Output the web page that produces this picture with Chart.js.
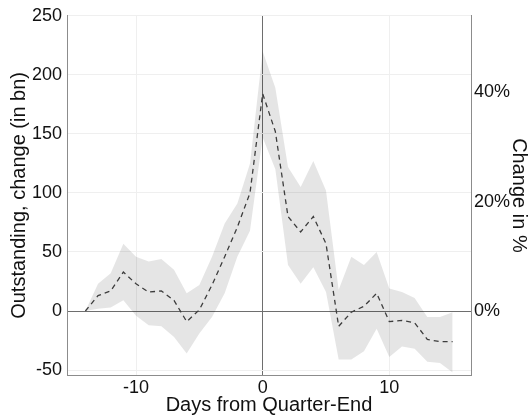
<!DOCTYPE html>
<html>
<head>
<meta charset="utf-8">
<script src="https://cdn.jsdelivr.net/npm/chart.js@4/dist/chart.umd.min.js"></script>
<style>
  html, body { margin: 0; padding: 0; background: #fff; }
  #wrap { width: 532px; height: 417px; }
</style>
</head>
<body>
<div id="wrap"><canvas id="quarterChart" width="532" height="417"></canvas></div>
<script>
// days relative to quarter end
let days = [-14, -13, -12, -11, -10, -9, -8, -7, -6, -5, -4, -3, -2, -1, 0,
            1, 2, 3, 4, 5, 6, 7, 8, 9, 10, 11, 12, 13, 14, 15];
// mean change (bn), dashed line
let meanChange = [0, 13, 17, 33, 23, 16, 17, 9, -9, 1, 22, 46, 71, 100, 184,
                  152, 80, 67, 80, 57, -13, -1, 4, 15, -9, -8, -10, -24, -26, -26];
// confidence band
let upperBand = [0, 23, 32, 57, 46, 42, 44, 35, 15, 22, 46, 74, 91, 125, 220,
                 189, 122, 105, 127, 102, 18, 46, 39, 50, 19, 16, 11, -5, -5, -1];
let lowerBand = [0, 2, 3, 9, -4, -12, -13, -22, -36, -19, -5, 15, 46, 68, 147,
                 120, 39, 23, 37, 16, -41, -41, -34, -15, -39, -30, -32, -43, -44, -52];

let leftTicks = [-50, 0, 50, 100, 150, 200, 250];
let rightTicks = [0, 20, 40];
let xTicks = [-10, 0, 10];

// px per bn / px per % -> ratio for the right axis
let pctPerBn = 1.1833 / 5.475;

function pts(vals) {
    return days.map((d, i) => ({ x: d, y: vals[i] }));
}

let tickFont = { family: "'Liberation Sans', Arial, sans-serif", size: 18 };
let titleFont = { family: "'Liberation Sans', Arial, sans-serif", size: 20 };
let textColor = "#111111";
let axisColor = "#8c8c8c";
let gridColor = "#efefef";
let zeroColor = "#6e6e6e";

let ctx = document.getElementById("quarterChart").getContext("2d");
window.quarterChart = new Chart(ctx, {
    type: "line",
    data: {
        datasets: [
            {
                label: "upper",
                data: pts(upperBand),
                borderWidth: 0,
                pointRadius: 0,
                backgroundColor: "rgba(0,0,0,0.10)",
                fill: "+1",
                yAxisID: "y"
            },
            {
                label: "lower",
                data: pts(lowerBand),
                borderWidth: 0,
                pointRadius: 0,
                fill: false,
                yAxisID: "y"
            },
            {
                label: "mean",
                data: pts(meanChange),
                borderColor: "#444444",
                borderWidth: 1.3,
                borderDash: [5, 4],
                pointRadius: 0,
                fill: false,
                yAxisID: "y"
            }
        ]
    },
    options: {
        responsive: false,
        animation: false,
        layout: { padding: { top: 15, left: 0, right: 0, bottom: 0 } },
        plugins: {
            legend: { display: false },
            tooltip: { enabled: false }
        },
        scales: {
            x: {
                type: "linear",
                min: -15.45,
                max: 16.45,
                afterBuildTicks: s => { s.ticks = xTicks.map(v => ({ value: v })); },
                afterFit: s => { s.height = 42; },
                grid: {
                    color: c => c.tick && c.tick.value === 0 ? zeroColor : gridColor,
                    drawTicks: false
                },
                border: { display: true, color: axisColor },
                ticks: { font: tickFont, color: textColor, padding: 2, maxRotation: 0 },
                title: {
                    display: true,
                    text: "Days from Quarter-End",
                    font: titleFont,
                    color: textColor,
                    padding: { top: 0, bottom: 0 }
                }
            },
            y: {
                position: "left",
                min: -54.2,
                max: 250,
                afterBuildTicks: s => { s.ticks = leftTicks.map(v => ({ value: v })); },
                afterFit: s => { s.width = 67; },
                grid: {
                    color: c => c.tick && c.tick.value === 0 ? zeroColor : gridColor,
                    drawTicks: false
                },
                border: { display: true, color: axisColor },
                ticks: { font: tickFont, color: textColor, padding: 5 },
                title: {
                    display: true,
                    text: "Outstanding, change (in bn)",
                    font: titleFont,
                    color: textColor,
                    padding: { top: 7, bottom: 0 }
                }
            },
            y2: {
                position: "right",
                min: -54.2 * pctPerBn,
                max: 250 * pctPerBn,
                afterBuildTicks: s => { s.ticks = rightTicks.map(v => ({ value: v })); },
                afterFit: s => { s.width = 61; },
                grid: { display: false, drawTicks: false },
                border: { display: true, color: axisColor },
                ticks: {
                    font: tickFont,
                    color: textColor,
                    padding: 3,
                    callback: v => v + "%"
                },
                title: {
                    display: true,
                    text: "Change in %",
                    font: titleFont,
                    color: textColor,
                    padding: { top: 1, bottom: 0 }
                }
            }
        }
    }
});
</script>
</body>
</html>
